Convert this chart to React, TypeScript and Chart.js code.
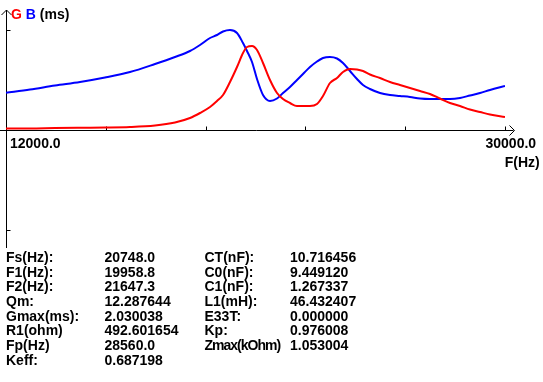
import React, { useEffect, useRef } from "react";
import { Chart, registerables } from "chart.js";

Chart.register(...registerables);

// Frequency axis (Hz)
const freqs = [
  12000, 12866, 13768, 14669, 15571, 16473, 17375, 18096, 18637, 18998,
  19359, 19611, 19828, 20080, 20333, 20549, 20693, 20874, 21054, 21271,
  21523, 21776, 21992, 22244, 22497, 22713, 22966, 23218, 23435, 23687,
  23940, 24156, 24409, 24661, 24878, 25130, 25491, 25852, 26212, 26573,
  26934, 27295, 27655, 28016, 28377, 28737, 29098, 29459, 30000,
];

// Conductance G (ms) - red
const gValues = [
  0.036, 0.036, 0.048, 0.055, 0.06, 0.072, 0.108, 0.18, 0.288, 0.408,
  0.552, 0.696, 0.84, 1.152, 1.512, 1.848, 1.992, 2.016, 1.92, 1.608,
  1.2, 0.888, 0.744, 0.648, 0.576, 0.576, 0.576, 0.624, 0.816, 1.128,
  1.248, 1.392, 1.464, 1.452, 1.416, 1.332, 1.248, 1.152, 1.08, 1.008,
  0.936, 0.864, 0.756, 0.648, 0.576, 0.492, 0.432, 0.372, 0.312,
];

// Susceptance B (ms) - blue
const bValues = [
  0.895, 0.972, 1.068, 1.152, 1.26, 1.392, 1.584, 1.752, 1.896, 2.04,
  2.208, 2.28, 2.364, 2.4, 2.328, 2.088, 1.896, 1.632, 1.224, 0.84,
  0.696, 0.756, 0.888, 1.032, 1.2, 1.344, 1.512, 1.644, 1.728, 1.752,
  1.716, 1.608, 1.416, 1.224, 1.08, 0.984, 0.888, 0.84, 0.816, 0.792,
  0.756, 0.744, 0.744, 0.744, 0.768, 0.828, 0.888, 0.96, 1.056,
];

const xMin = 12000;
const xMax = 30000;
const yMin = -2.88;
const yMax = 2.88;
const xTicks = [15600, 19200, 22800, 26400, 30000];
const yTicks = [2.4, -2.4];

const xMinLabel = "12000.0";
const xMaxLabel = "30000.0";
const xAxisTitle = "F(Hz)";

const leftLabels = ["Fs(Hz):", "F1(Hz):", "F2(Hz):", "Qm:", "Gmax(ms):", "R1(ohm)", "Fp(Hz)", "Keff:"];
const leftValues = ["20748.0", "19958.8", "21647.3", "12.287644", "2.030038", "492.601654", "28560.0", "0.687198"];
const rightLabels = ["CT(nF):", "C0(nF):", "C1(nF):", "L1(mH):", "E33T:", "Kp:", "Zmax(kOhm)"];
const rightValues = ["10.716456", "9.449120", "1.267337", "46.432407", "0.000000", "0.976008", "1.053004"];

const axesPlugin = {
  id: "customAxes",
  beforeDatasetsDraw(chart: any) {
    const ctx = chart.ctx;
    const xs = chart.scales.x;
    const ys = chart.scales.y;
    const y0 = Math.round(ys.getPixelForValue(0)) + 0.5;
    const xl = Math.round(xs.left) + 0.5;
    const xr = Math.round(xs.right) + 0.5;
    ctx.save();
    ctx.strokeStyle = "#000";
    ctx.lineWidth = 1;
    ctx.beginPath();
    // x axis
    ctx.moveTo(0, y0);
    ctx.lineTo(xr + 8, y0);
    // arrow
    ctx.moveTo(xr + 4, y0 - 5);
    ctx.lineTo(xr + 9, y0);
    ctx.lineTo(xr + 4, y0 + 5);
    // y axis
    const top = Math.round(ys.top);
    ctx.moveTo(xl, top);
    ctx.lineTo(xl, Math.round(ys.bottom) - 2);
    ctx.moveTo(xl - 5, top + 5);
    ctx.lineTo(xl, top);
    ctx.lineTo(xl + 5, top + 5);
    // x ticks
    xTicks.forEach((t) => {
      const px = Math.round(xs.getPixelForValue(t)) + 0.5;
      ctx.moveTo(px, y0);
      ctx.lineTo(px, y0 - 4);
    });
    // y ticks
    yTicks.forEach((t) => {
      const py = Math.round(ys.getPixelForValue(t)) + 0.5;
      ctx.moveTo(xl, py);
      ctx.lineTo(xl + 4, py);
    });
    ctx.stroke();
    ctx.restore();
  },
};

const font = 'bold 14px "Liberation Sans", Arial, sans-serif';

const textStyle = (left: number, top: number, color = "#000"): React.CSSProperties => ({
  position: "absolute",
  left,
  top,
  font,
  lineHeight: "16px",
  color,
  whiteSpace: "nowrap",
  margin: 0,
});

export default function App() {
  const canvasRef = useRef<HTMLCanvasElement | null>(null);

  useEffect(() => {
    const canvas = canvasRef.current;
    if (!canvas) return;
    const chart = new Chart(canvas, {
      type: "line",
      data: {
        labels: freqs,
        datasets: [
          {
            label: "G",
            data: freqs.map((f, i) => ({ x: f, y: gValues[i] })),
            borderColor: "#ff0000",
            borderWidth: 2,
            pointRadius: 0,
            fill: false,
            cubicInterpolationMode: "monotone",
          },
          {
            label: "B",
            data: freqs.map((f, i) => ({ x: f, y: bValues[i] })),
            borderColor: "#0000ff",
            borderWidth: 2,
            pointRadius: 0,
            fill: false,
            cubicInterpolationMode: "monotone",
          },
        ],
      },
      options: {
        animation: false,
        responsive: false,
        devicePixelRatio: 1,
        layout: { padding: { left: 6, right: 38, top: 10, bottom: 132 } },
        scales: {
          x: { type: "linear", min: xMin, max: xMax, display: false },
          y: { type: "linear", min: yMin, max: yMax, display: false },
        },
        plugins: {
          legend: { display: false },
          tooltip: { enabled: false },
        },
      },
      plugins: [axesPlugin],
    });
    return () => chart.destroy();
  }, []);

  const rowTop = (i: number) => 248.9 + i * 14.66;

  return (
    <div
      style={{
        position: "fixed",
        left: 0,
        top: 0,
        width: 543,
        height: 382,
        background: "#fff",
        overflow: "hidden",
      }}
    >
      <canvas ref={canvasRef} width={543} height={382} style={{ position: "absolute", left: 0, top: 0 }} />
      <div style={textStyle(11, 6.2)}>
        <span style={{ color: "#ff0000" }}>G</span> <span style={{ color: "#0000ff" }}>B</span> (ms)
      </div>
      <div style={textStyle(10, 135.2)}>{xMinLabel}</div>
      <div style={textStyle(485.5, 135.2)}>{xMaxLabel}</div>
      <div style={textStyle(504.7, 153.9)}>{xAxisTitle}</div>
      {leftLabels.map((t, i) => (
        <div key={"ll" + i} style={textStyle(6, rowTop(i))}>{t}</div>
      ))}
      {leftValues.map((t, i) => (
        <div key={"lv" + i} style={textStyle(104.5, rowTop(i))}>{t}</div>
      ))}
      {rightLabels.map((t, i) => (
        <div
          key={"rl" + i}
          style={{ ...textStyle(204.5, rowTop(i)), letterSpacing: t.length > 8 ? "-1px" : "normal" }}
        >
          {t}
        </div>
      ))}
      {rightValues.map((t, i) => (
        <div key={"rv" + i} style={textStyle(290, rowTop(i))}>{t}</div>
      ))}
    </div>
  );
}
